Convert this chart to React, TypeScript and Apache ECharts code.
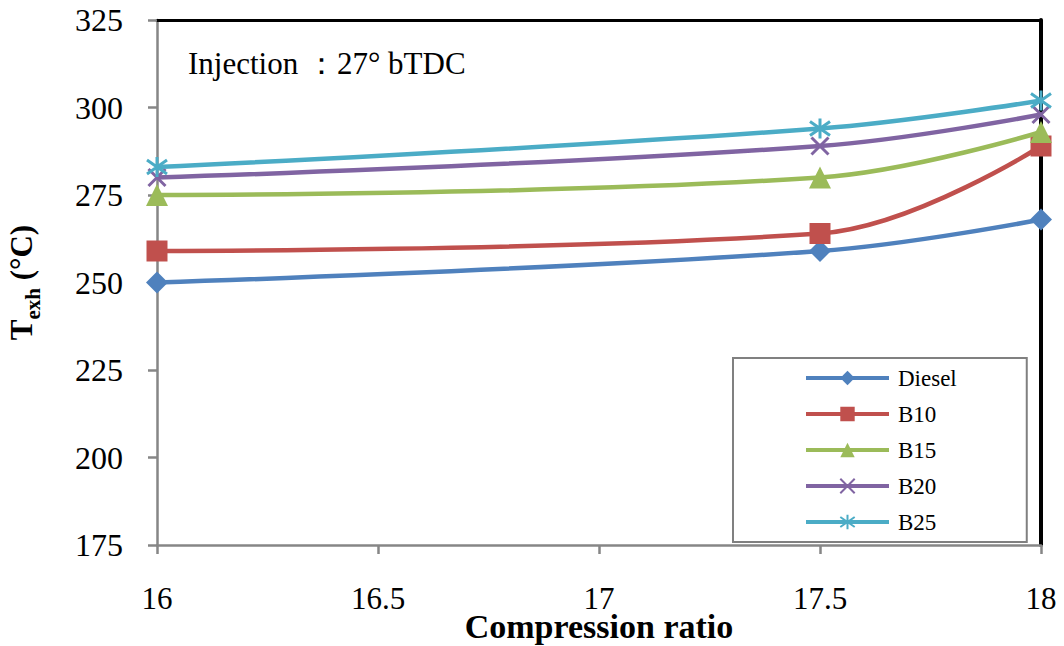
import React, { useEffect, useRef } from "react";
import * as echarts from "echarts";

const seriesNames = ["Diesel", "B10", "B15", "B20", "B25"];
const compressionRatios = [16, 17.5, 18];
const dieselValues = [250, 259, 268];
const b10Values = [259, 264, 289];
const b15Values = [275, 280, 293];
const b20Values = [280, 289, 298];
const b25Values = [283, 294, 302];
const seriesColors = ["#4F81BD", "#C0504D", "#9BBB59", "#8064A2", "#4BACC6"];
const yTicks = { min: 175, max: 325, interval: 25 };
const xTicks = { min: 16, max: 18, interval: 0.5 };
const xTitle = "Compression ratio";
const annotation = "Injection ：27° bTDC";

const allValues = [dieselValues, b10Values, b15Values, b20Values, b25Values];

const FONT = "'Liberation Serif', 'Times New Roman', serif";

const symbols = [
  { symbol: "diamond", size: 22 },
  { symbol: "rect", size: 21 },
  { symbol: "triangle", size: 22 },
  { symbol: "path://M0,0L10,10M10,0L0,10", size: 17 },
  { symbol: "path://M5,0L5,10M0,1.5L10,8.5M10,1.5L0,8.5", size: 20 },
];

export default function App() {
  const ref = useRef<HTMLDivElement>(null);
  useEffect(() => {
    if (!ref.current) return;
    const chart = echarts.init(ref.current, undefined, { renderer: "svg" });
    const series = seriesNames.map((name, i) => {
      const isStroke = i >= 3;
      return {
        name,
        type: "line",
        xAxisIndex: 0,
        yAxisIndex: 0,
        smooth: 0.4,
        data: compressionRatios.map((x, j) => [x, allValues[i][j]]),
        symbol: symbols[i].symbol,
        symbolSize: symbols[i].size,
        symbolKeepAspect: true,
        lineStyle: { color: seriesColors[i], width: 4.5 },
        itemStyle: isStroke
          ? { color: seriesColors[i], borderColor: seriesColors[i], borderWidth: 3 }
          : { color: seriesColors[i], borderWidth: 0 },
        z: 2 + i,
      };
    });
    chart.setOption({
      animation: false,
      backgroundColor: "#ffffff",
      textStyle: { fontFamily: FONT },
      grid: { left: 157, right: 23, top: 20, bottom: 101, containLabel: false, outerBoundsMode: "none" },
      xAxis: [
        {
          type: "value",
          min: xTicks.min,
          max: xTicks.max,
          interval: xTicks.interval,
          position: "bottom",
          axisLine: { show: true, lineStyle: { color: "#868686", width: 2.5 } },
          axisTick: { show: true, inside: false, length: 9, lineStyle: { color: "#868686", width: 2.5 } },
          splitLine: { show: false },
          axisLabel: { fontFamily: FONT, fontSize: 31, lineHeight: 26, color: "#000", margin: 40 },
          name: xTitle,
          nameLocation: "middle",
          nameGap: 67,
          nameMoveOverlap: false,
          nameTextStyle: { fontFamily: FONT, fontSize: 34, lineHeight: 28, fontWeight: "bold", color: "#000" },
        },
        {
          type: "value",
          min: xTicks.min,
          max: xTicks.max,
          position: "top",
          axisLine: { show: true, lineStyle: { color: "#000", width: 3 } },
          axisTick: { show: false },
          axisLabel: { show: false },
          splitLine: { show: false },
        },
      ],
      yAxis: [
        {
          type: "value",
          min: yTicks.min,
          max: yTicks.max,
          interval: yTicks.interval,
          position: "left",
          axisLine: { show: true, lineStyle: { color: "#868686", width: 2.5 } },
          axisTick: { show: true, inside: false, length: 9, lineStyle: { color: "#868686", width: 2.5 } },
          splitLine: { show: false },
          axisLabel: { fontFamily: FONT, fontSize: 32, color: "#000", margin: 34 },
          name: "{t|T}{s|exh}{t| (°C)}",
          nameLocation: "middle",
          nameGap: 120,
          nameMoveOverlap: false,
          nameTextStyle: {
            fontFamily: FONT,
            fontWeight: "bold",
            color: "#000",
            rich: {
              t: { fontFamily: FONT, fontWeight: "bold", fontSize: 31, color: "#000", verticalAlign: "bottom" },
              s: { fontFamily: FONT, fontWeight: "bold", fontSize: 21, color: "#000", verticalAlign: "bottom", padding: [0, 0, -6, 0] },
            },
          },
        },
        {
          type: "value",
          min: yTicks.min,
          max: yTicks.max,
          position: "right",
          axisLine: { show: true, lineStyle: { color: "#000", width: 4 } },
          axisTick: { show: false },
          axisLabel: { show: false },
          splitLine: { show: false },
        },
      ],
      legend: {
        data: seriesNames,
        orient: "vertical",
        left: 733,
        top: 358,
        padding: [8, 70, 8, 71],
        itemWidth: 83,
        itemHeight: 18,
        itemGap: 12,
        backgroundColor: "#ffffff",
        borderColor: "#808080",
        borderWidth: 2,
        lineStyle: { width: 4 },
        textStyle: { fontFamily: FONT, fontSize: 23, color: "#000", lineHeight: 24, padding: [0, 0, 0, 4] },
        selectedMode: false,
      },
      graphic: [
        {
          type: "text",
          left: 188,
          top: 48,
          style: { text: annotation, fontFamily: FONT, fontSize: 31, fill: "#000" },
          z: 10,
        },
      ],
      series,
    });
    return () => chart.dispose();
  }, []);
  return (
    <div
      ref={ref}
      style={{ position: "absolute", left: 0, top: 0, width: 1064, height: 646 }}
    />
  );
}
